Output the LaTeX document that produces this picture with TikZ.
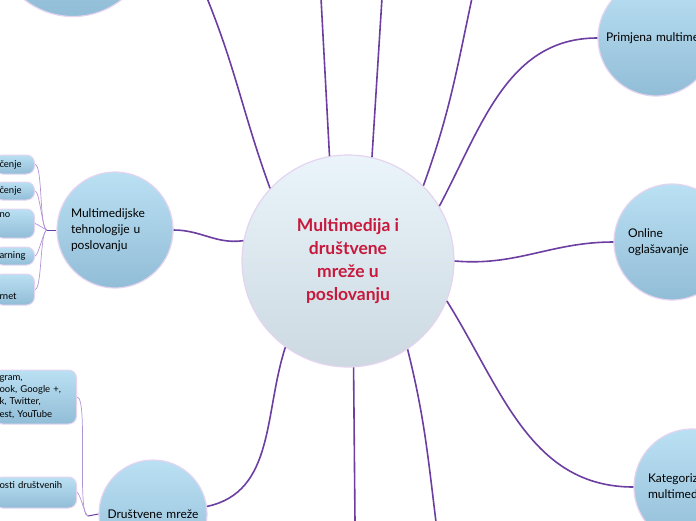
\documentclass[tikz,border=0pt]{standalone}
\usepackage{fontspec}
\setmainfont{Lato}
\definecolor{lav}{RGB}{228,212,240}
\definecolor{plum}{RGB}{108,62,162}
\definecolor{twigc}{RGB}{178,148,214}
\definecolor{hubtxt}{RGB}{200,24,60}
\definecolor{blueA}{RGB}{186,224,243}
\definecolor{blueB}{RGB}{146,189,215}
\definecolor{hubA}{RGB}{234,244,250}
\definecolor{hubB}{RGB}{204,217,225}
\tikzset{
  hub/.style={circle,draw=lav,line width=1.2pt,top color=hubA,bottom color=hubB,minimum size=212pt,inner sep=0pt,font=\fontsize{17.5}{23}\selectfont\bfseries,text=hubtxt,align=center},
  topic/.style={circle,draw=lav,line width=1.2pt,top color=blueA,bottom color=blueB,minimum size=116pt,inner sep=0pt,font=\fontsize{12}{16}\selectfont,align=left,text width=88pt},
  leaf/.style={draw=lav,line width=1pt,rounded corners=8pt,top color=blueA,bottom color=blueB,font=\fontsize{9.5}{12.3}\selectfont,align=left,inner xsep=5pt,inner ysep=3pt,anchor=east},
  link/.style={plum,line width=1.6pt},
  twig/.style={twigc,line width=0.7pt}
}
\begin{document}
\begin{tikzpicture}[x=1pt,y=-1pt]
\useasboundingbox (0,0) rectangle (696,520);
\clip (0,0) rectangle (696,520);
\node[hub] (hub) at (348,261) {Multimedija i\\društvene\\mreže u\\poslovanju};
\node[topic,minimum size=157pt] (t0) at (73,-62) {};
\node[topic] (t1) at (115,230) {Multimedijske\\tehnologije u\\poslovanju};
\node[topic,minimum size=108pt,align=center,text width=100pt] (t2) at (153,514) {Društvene mreže};
\node[topic,text width=100pt] (t3) at (656,38) {\mbox{Primjena multimedije}};
\node[topic] (t4) at (672,242) {Online\\oglašavanje};
\node[topic] (t5) at (692,487) {Kategorizacija\\multimedije};
\node[leaf,text width=30pt,minimum height=19pt] (l1) at (35,164.5) {čenje};
\node[leaf,text width=30pt,minimum height=18pt] (l2) at (35,191) {čenje};
\node[leaf,text width=30pt,minimum height=29pt] (l3) at (35,223.5) {no\\\strut};
\node[leaf,text width=30pt,minimum height=18pt] (l4) at (35,256) {arning};
\node[leaf,text width=30pt,minimum height=31pt] (l5) at (35,289.5) {\strut\\rnet};
\node[leaf,text width=72pt,minimum height=54pt] (la) at (77,397) {gram,\\ook, Google +,\\k, Twitter,\\est, YouTube};
\node[leaf,text width=72pt,minimum height=31pt] (lb) at (77,492.5) {osti društvenih\\\strut};
\coordinate (j1) at (47,230);
\coordinate (j2) at (88,516);
\coordinate (e1) at (207,-2);
\coordinate (e2) at (321,-2);
\coordinate (e3) at (382,-2);
\coordinate (e4) at (472,-2);
\coordinate (e5) at (355,522);
\coordinate (e6) at (436,522);
\draw[link] (hub.137) to[out=110,in=-68] (e1);
\draw[link] (hub.100) -- (e2);
\draw[link] (hub.77) -- (e3);
\draw[link] (hub.45) to[out=70,in=-102] (e4);
\draw[link] (hub.31) to[out=62,in=180] (t3.west);
\draw[link] (hub.east) to[out=-5,in=180] (t4.west);
\draw[link] (hub.338) to[out=-58,in=180] (t5.west);
\draw[link] (hub.304) to[out=-76,in=97] (e6);
\draw[link] (hub.273) -- (e5);
\draw[link] (hub.234) to[out=-108,in=12] (t2.8);
\draw[link] (hub.169) to[out=188,in=0] (t1.east);
\foreach \i in {1,...,5}{\draw[twig] (l\i.east) to[out=0,in=180,looseness=.3] (j1);}
\draw[twig] (la.east) to[out=0,in=180,looseness=.25] (j2);
\draw[twig] (lb.east) to[out=0,in=180,looseness=.3] (j2);
\draw[plum,line width=1pt] (j1) -- (t1.west);
\draw[plum,line width=1pt] (j2) -- (t2.west);
\end{tikzpicture}
\end{document}
